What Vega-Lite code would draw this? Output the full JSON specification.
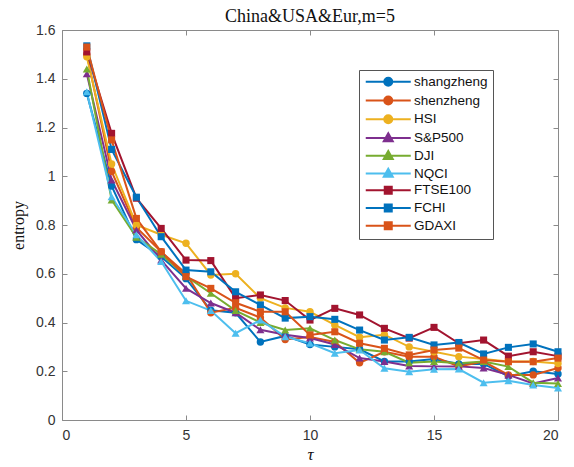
{
  "$schema": "https://vega.github.io/schema/vega-lite/v6.json",
  "width": 496,
  "height": 390,
  "autosize": "none",
  "padding": {"left": 62, "top": 30, "right": 16, "bottom": 47},
  "background": "white",
  "title": {
    "text": "China&USA&Eur,m=5",
    "font": "Liberation Serif",
    "fontSize": 18,
    "fontWeight": "normal",
    "color": "#111",
    "offset": -3
  },
  "data": {
    "values": [
      {"tau": 1, "shangzheng": 1.34, "shenzheng": 1.5, "HSI": 1.49, "S&P500": 1.42, "DJI": 1.44, "NQCI": 1.347, "FTSE100": 1.51, "FCHI": 1.535, "GDAXI": 1.53},
      {"tau": 2, "shangzheng": 0.96, "shenzheng": 1.02, "HSI": 1.05, "S&P500": 0.985, "DJI": 0.903, "NQCI": 0.916, "FTSE100": 1.176, "FCHI": 1.11, "GDAXI": 1.149},
      {"tau": 3, "shangzheng": 0.74, "shenzheng": 0.79, "HSI": 0.8, "S&P500": 0.78, "DJI": 0.75, "NQCI": 0.76, "FTSE100": 0.91, "FCHI": 0.914, "GDAXI": 0.827},
      {"tau": 4, "shangzheng": 0.67, "shenzheng": 0.69, "HSI": 0.76, "S&P500": 0.656, "DJI": 0.68, "NQCI": 0.65, "FTSE100": 0.786, "FCHI": 0.752, "GDAXI": 0.69},
      {"tau": 5, "shangzheng": 0.58, "shenzheng": 0.6, "HSI": 0.725, "S&P500": 0.54, "DJI": 0.59, "NQCI": 0.489, "FTSE100": 0.656, "FCHI": 0.615, "GDAXI": 0.588},
      {"tau": 6, "shangzheng": 0.45, "shenzheng": 0.44, "HSI": 0.595, "S&P500": 0.48, "DJI": 0.52, "NQCI": 0.449, "FTSE100": 0.654, "FCHI": 0.608, "GDAXI": 0.54},
      {"tau": 7, "shangzheng": 0.44, "shenzheng": 0.46, "HSI": 0.6, "S&P500": 0.44, "DJI": 0.449, "NQCI": 0.356, "FTSE100": 0.5, "FCHI": 0.526, "GDAXI": 0.481},
      {"tau": 8, "shangzheng": 0.32, "shenzheng": 0.42, "HSI": 0.5, "S&P500": 0.37, "DJI": 0.4, "NQCI": 0.41, "FTSE100": 0.513, "FCHI": 0.472, "GDAXI": 0.444},
      {"tau": 9, "shangzheng": 0.345, "shenzheng": 0.33, "HSI": 0.46, "S&P500": 0.35, "DJI": 0.369, "NQCI": 0.342, "FTSE100": 0.49, "FCHI": 0.418, "GDAXI": 0.444},
      {"tau": 10, "shangzheng": 0.31, "shenzheng": 0.34, "HSI": 0.444, "S&P500": 0.336, "DJI": 0.376, "NQCI": 0.315, "FTSE100": 0.41, "FCHI": 0.424, "GDAXI": 0.349},
      {"tau": 11, "shangzheng": 0.3, "shenzheng": 0.32, "HSI": 0.39, "S&P500": 0.31, "DJI": 0.328, "NQCI": 0.274, "FTSE100": 0.458, "FCHI": 0.413, "GDAXI": 0.362},
      {"tau": 12, "shangzheng": 0.29, "shenzheng": 0.235, "HSI": 0.34, "S&P500": 0.254, "DJI": 0.29, "NQCI": 0.287, "FTSE100": 0.431, "FCHI": 0.369, "GDAXI": 0.315},
      {"tau": 13, "shangzheng": 0.24, "shenzheng": 0.28, "HSI": 0.35, "S&P500": 0.24, "DJI": 0.28, "NQCI": 0.212, "FTSE100": 0.376, "FCHI": 0.328, "GDAXI": 0.294},
      {"tau": 14, "shangzheng": 0.24, "shenzheng": 0.26, "HSI": 0.3, "S&P500": 0.222, "DJI": 0.235, "NQCI": 0.198, "FTSE100": 0.336, "FCHI": 0.339, "GDAXI": 0.267},
      {"tau": 15, "shangzheng": 0.25, "shenzheng": 0.26, "HSI": 0.28, "S&P500": 0.22, "DJI": 0.24, "NQCI": 0.208, "FTSE100": 0.38, "FCHI": 0.308, "GDAXI": 0.287},
      {"tau": 16, "shangzheng": 0.23, "shenzheng": 0.22, "HSI": 0.26, "S&P500": 0.22, "DJI": 0.233, "NQCI": 0.209, "FTSE100": 0.315, "FCHI": 0.318, "GDAXI": 0.295},
      {"tau": 17, "shangzheng": 0.23, "shenzheng": 0.24, "HSI": 0.25, "S&P500": 0.213, "DJI": 0.24, "NQCI": 0.153, "FTSE100": 0.328, "FCHI": 0.271, "GDAXI": 0.246},
      {"tau": 18, "shangzheng": 0.18, "shenzheng": 0.185, "HSI": 0.24, "S&P500": 0.185, "DJI": 0.219, "NQCI": 0.161, "FTSE100": 0.262, "FCHI": 0.298, "GDAXI": 0.239},
      {"tau": 19, "shangzheng": 0.2, "shenzheng": 0.185, "HSI": 0.24, "S&P500": 0.15, "DJI": 0.153, "NQCI": 0.144, "FTSE100": 0.28, "FCHI": 0.312, "GDAXI": 0.239},
      {"tau": 20, "shangzheng": 0.189, "shenzheng": 0.213, "HSI": 0.232, "S&P500": 0.172, "DJI": 0.15, "NQCI": 0.131, "FTSE100": 0.262, "FCHI": 0.28, "GDAXI": 0.254}
    ]
  },
  "transform": [
    {"fold": ["shangzheng", "shenzheng", "HSI", "S&P500", "DJI", "NQCI", "FTSE100", "FCHI", "GDAXI"], "as": ["series", "entropy"]}
  ],
  "config": {
    "view": {"stroke": null},
    "axis": {
      "grid": false,
      "domainColor": "#8a8a8a",
      "domainWidth": 1,
      "tickColor": "#8a8a8a",
      "tickSize": -5,
      "labelFont": "Liberation Sans",
      "labelFontSize": 14,
      "labelColor": "#333333",
      "titleFont": "Liberation Serif",
      "titleFontWeight": "normal",
      "titleColor": "#111111"
    },
    "legend": {
      "title": null,
      "orient": "none",
      "legendX": 297,
      "legendY": 40,
      "padding": 5,
      "strokeColor": "#555555",
      "fillColor": "white",
      "cornerRadius": 0,
      "labelFont": "Liberation Sans",
      "labelFontSize": 13.5,
      "labelColor": "#111111",
      "symbolSize": 100,
      "symbolStrokeWidth": 2,
      "symbolOpacity": 1,
      "symbolOffset": 17.5,
      "labelOffset": 19,
      "rowPadding": 1.75
    }
  },
  "encoding": {
    "x": {"field": "tau", "type": "quantitative", "scale": {"domain": [0, 20], "nice": false, "zero": false}, "axis": null},
    "y": {"field": "entropy", "type": "quantitative", "scale": {"domain": [0, 1.6], "nice": false}, "axis": null},
    "color": {
      "field": "series",
      "type": "nominal",
      "scale": {
        "domain": ["shangzheng", "shenzheng", "HSI", "S&P500", "DJI", "NQCI", "FTSE100", "FCHI", "GDAXI"],
        "range": ["#0072BD", "#D95319", "#EDB120", "#7E2F8E", "#77AC30", "#4DBEEE", "#A2142F", "#0072BD", "#D95319"]
      },
      "legend": {
        "title": null,
        "encode": {
          "symbols": {
            "update": {
              "fill": {"scale": "color", "field": "value"},
              "stroke": {"scale": "color", "field": "value"},
              "opacity": {"value": 1},
              "size": {"value": 100}
            }
          }
        }
      }
    }
  },
  "layer": [
    {
      "mark": {"type": "line", "strokeWidth": 2},
      "encoding": {
        "x": {"field": "tau", "type": "quantitative", "axis": {"orient": "bottom", "values": [0, 5, 10, 15, 20], "labelPadding": 13, "title": "τ", "titleFontSize": 17, "titleFontStyle": "italic", "titlePadding": 4}},
        "y": {"field": "entropy", "type": "quantitative", "axis": {"orient": "left", "values": [0, 0.2, 0.4, 0.6, 0.8, 1, 1.2, 1.4, 1.6], "format": "~g", "labelPadding": 12, "title": "entropy", "titleFontSize": 16, "titlePadding": 9}}
      }
    },
    {
      "transform": [{"filter": {"field": "series", "oneOf": ["shangzheng", "shenzheng", "HSI"]}}],
      "mark": {"type": "point", "filled": true, "opacity": 1, "size": 55, "shape": "circle"},
      "encoding": {
        "x": {"field": "tau", "type": "quantitative", "axis": {"orient": "top", "values": [0, 5, 10, 15, 20], "labels": false, "title": null}},
        "y": {"field": "entropy", "type": "quantitative", "axis": {"orient": "right", "values": [0, 0.2, 0.4, 0.6, 0.8, 1, 1.2, 1.4, 1.6], "labels": false, "title": null}}
      }
    },
    {
      "transform": [{"filter": {"field": "series", "oneOf": ["S&P500", "DJI", "NQCI"]}}],
      "mark": {"type": "point", "filled": true, "opacity": 1, "size": 65, "shape": "triangle-up"}
    },
    {
      "transform": [{"filter": {"field": "series", "oneOf": ["FTSE100", "FCHI", "GDAXI"]}}],
      "mark": {"type": "point", "filled": true, "opacity": 1, "size": 50, "shape": "square"}
    },
    {
      "mark": {"type": "point", "filled": true, "size": 0},
      "encoding": {
        "shape": {
          "field": "series",
          "type": "nominal",
          "scale": {
            "domain": ["shangzheng", "shenzheng", "HSI", "S&P500", "DJI", "NQCI", "FTSE100", "FCHI", "GDAXI"],
            "range": [
              "M-4.5,0H4.5M0.8,0A0.8,0.8,0,1,1,-0.8,0A0.8,0.8,0,1,1,0.8,0Z",
              "M-4.5,0H4.5M0.8,0A0.8,0.8,0,1,1,-0.8,0A0.8,0.8,0,1,1,0.8,0Z",
              "M-4.5,0H4.5M0.8,0A0.8,0.8,0,1,1,-0.8,0A0.8,0.8,0,1,1,0.8,0Z",
              "M-4.5,0H4.5M0,-0.95L0.9,0.65L-0.9,0.65Z",
              "M-4.5,0H4.5M0,-0.95L0.9,0.65L-0.9,0.65Z",
              "M-4.5,0H4.5M0,-0.95L0.9,0.65L-0.9,0.65Z",
              "M-4.5,0H4.5M-0.7,-0.7H0.7V0.7H-0.7Z",
              "M-4.5,0H4.5M-0.7,-0.7H0.7V0.7H-0.7Z",
              "M-4.5,0H4.5M-0.7,-0.7H0.7V0.7H-0.7Z"
            ]
          },
          "legend": {"title": null}
        }
      }
    }
  ],
  "resolve": {
    "axis": {"x": "independent", "y": "independent"}
  }
}
